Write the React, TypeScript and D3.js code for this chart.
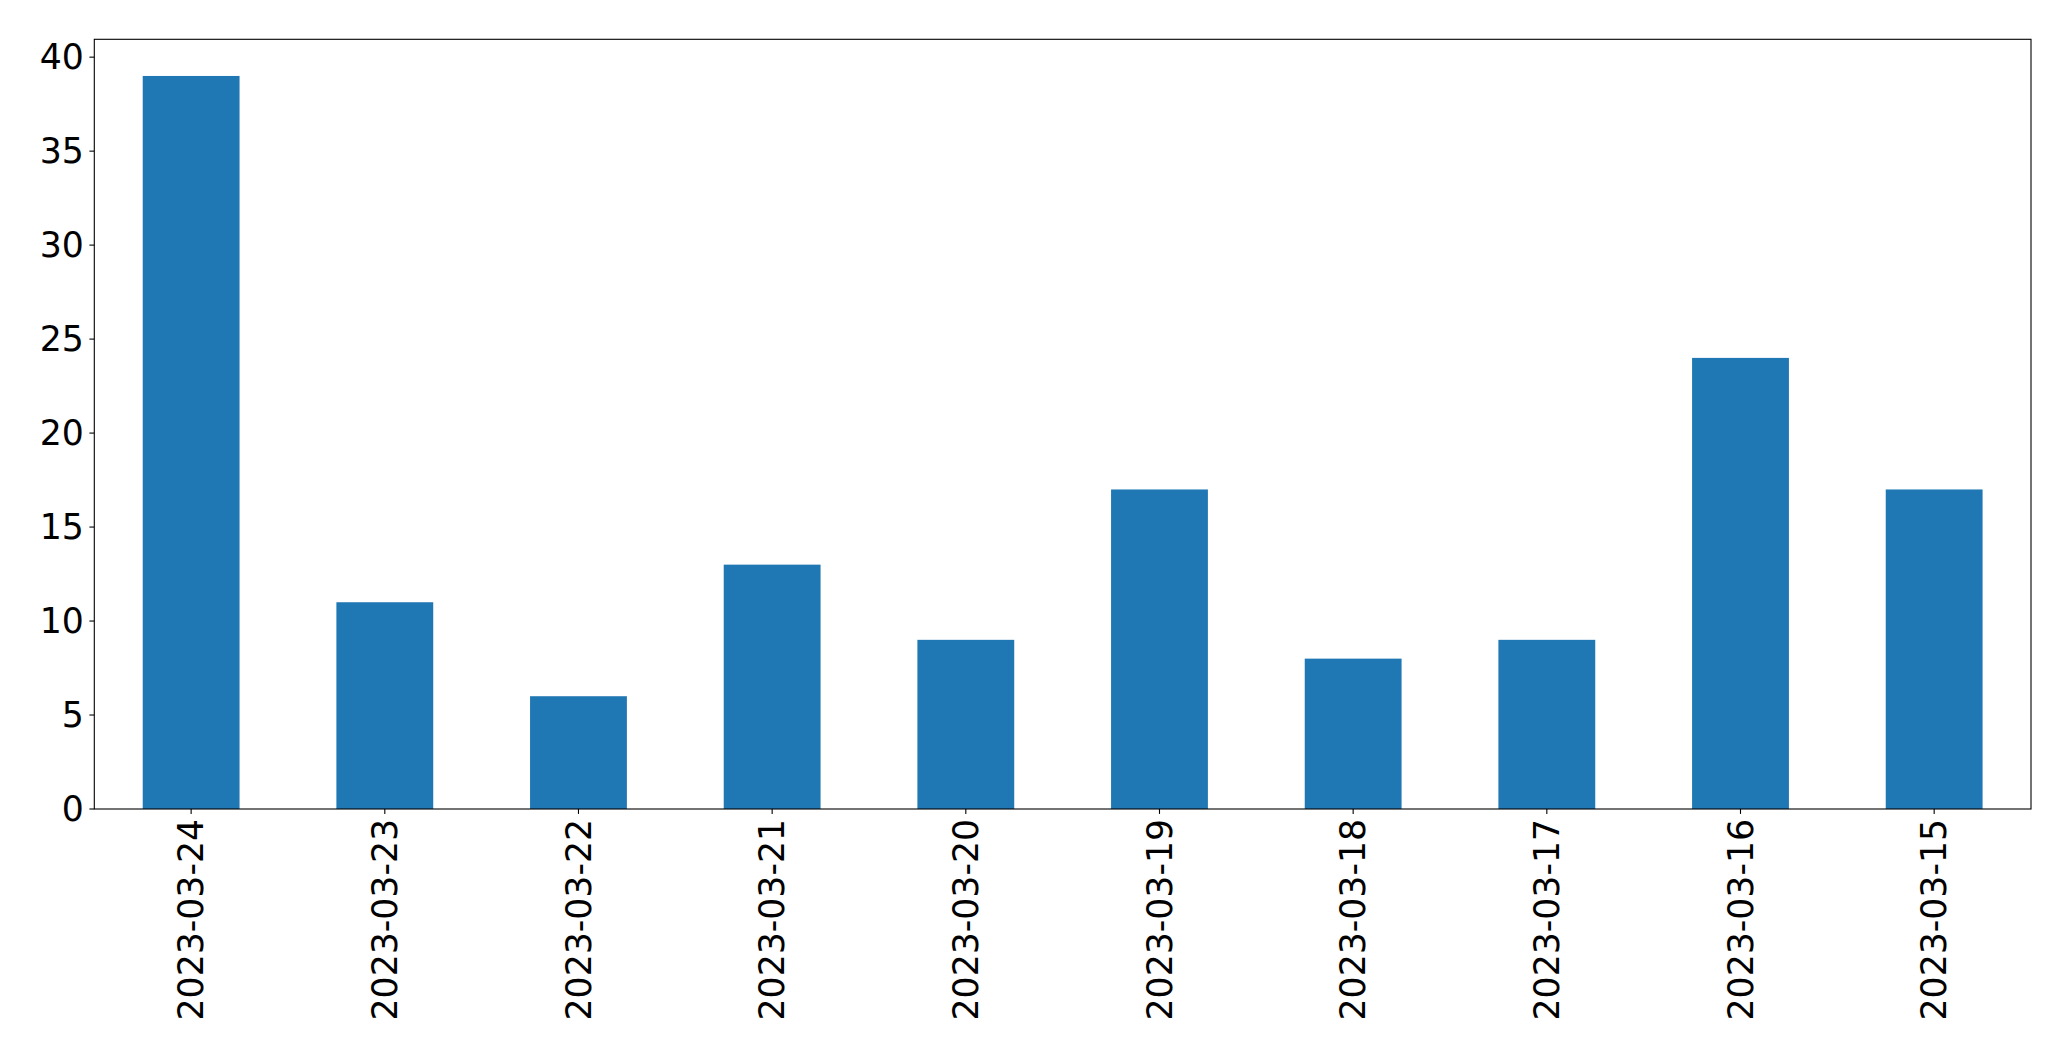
import * as d3 from "d3";
import { useEffect, useRef } from "react";

const dates = [
  "2023-03-24",
  "2023-03-23",
  "2023-03-22",
  "2023-03-21",
  "2023-03-20",
  "2023-03-19",
  "2023-03-18",
  "2023-03-17",
  "2023-03-16",
  "2023-03-15",
];
const counts = [39, 11, 6, 13, 9, 17, 8, 9, 24, 17];
const yTicks = [0, 5, 10, 15, 20, 25, 30, 35, 40];

export default function App() {
  const ref = useRef<SVGSVGElement | null>(null);

  useEffect(() => {
    document.body.style.margin = "0";
    const width = 2071;
    const height = 1061;
    const margin = { top: 39.3, right: 40, bottom: 252, left: 94.3 };
    const font = "'DejaVu Sans', sans-serif";
    const fontSize = 34.7;
    const tickLen = 4.9;

    const svg = d3.select(ref.current);
    svg.selectAll("*").remove();
    svg.attr("width", width).attr("height", height);

    const x0 = margin.left;
    const x1 = width - margin.right;
    const y0 = height - margin.bottom;
    const y1 = margin.top;

    // pandas style: xlim [-0.5, n-0.5], bar width 0.5
    const x = d3
      .scaleLinear()
      .domain([-0.5, dates.length - 0.5])
      .range([x0, x1]);
    const y = d3
      .scaleLinear()
      .domain([0, d3.max(counts)! * 1.05])
      .range([y0, y1]);

    svg
      .append("g")
      .selectAll("rect")
      .data(counts)
      .join("rect")
      .attr("x", (_, i) => x(i - 0.25))
      .attr("width", x(0.25) - x(-0.25))
      .attr("y", (d) => y(d))
      .attr("height", (d) => y(0) - y(d))
      .attr("fill", "#1f77b4");

    // frame
    svg
      .append("rect")
      .attr("x", x0)
      .attr("y", y1)
      .attr("width", x1 - x0)
      .attr("height", y0 - y1)
      .attr("fill", "none")
      .attr("stroke", "black")
      .attr("stroke-width", 1.1);

    // y axis
    const gy = svg.append("g");
    gy.selectAll("line")
      .data(yTicks)
      .join("line")
      .attr("x1", x0 - tickLen)
      .attr("x2", x0)
      .attr("y1", (d) => y(d))
      .attr("y2", (d) => y(d))
      .attr("stroke", "black")
      .attr("stroke-width", 1.1);
    gy.selectAll("text")
      .data(yTicks)
      .join("text")
      .attr("x", x0 - tickLen - 5.5)
      .attr("y", (d) => y(d))
      .attr("dy", "0.35em")
      .attr("text-anchor", "end")
      .attr("font-family", font)
      .attr("font-size", fontSize)
      .attr("fill", "black")
      .text((d) => d);

    // x axis
    const gx = svg.append("g");
    gx.selectAll("line")
      .data(dates)
      .join("line")
      .attr("x1", (_, i) => x(i))
      .attr("x2", (_, i) => x(i))
      .attr("y1", y0)
      .attr("y2", y0 + tickLen)
      .attr("stroke", "black")
      .attr("stroke-width", 1.1);
    gx.selectAll("text")
      .data(dates)
      .join("text")
      .attr(
        "transform",
        (_, i) => `translate(${x(i)},${y0 + tickLen + 5}) rotate(-90)`
      )
      .attr("dy", "0.35em")
      .attr("text-anchor", "end")
      .attr("font-family", font)
      .attr("font-size", fontSize)
      .attr("fill", "black")
      .text((d) => d);
  }, []);

  return <svg ref={ref} style={{ display: "block" }} />;
}
